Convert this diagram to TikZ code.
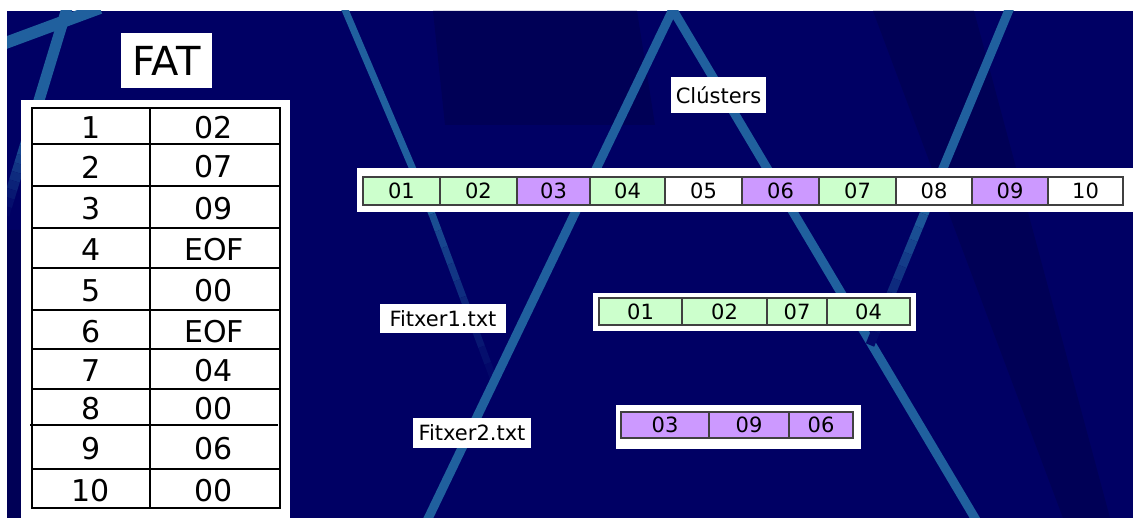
\documentclass[tikz,border=0pt]{standalone}
\usepackage{fontspec}
\setmainfont{DejaVu Sans}
\usetikzlibrary{calc}
\definecolor{bgnavy}{RGB}{0,0,100}
\definecolor{darknavy}{RGB}{0,0,86}
\definecolor{streak}{RGB}{32,96,158}
\definecolor{cellgreen}{RGB}{204,255,204}
\definecolor{cellpurple}{RGB}{204,153,255}
\begin{document}
\begin{tikzpicture}[x=1pt,y=-1pt,
  streakline/.style={draw=streak, line width=9pt},
  panel/.style={fill=white, draw=none, inner sep=0pt},
  cellbox/.style={draw=black!75, line width=1.1pt, inner sep=0pt, minimum height=28pt, font=\fontsize{21}{21}\selectfont},
  tag/.style={fill=white, draw=none, inner sep=0pt, font=\fontsize{21}{21}\selectfont},
  gridline/.style={draw=black, line width=1.8pt},
  tabtext/.style={font=\fontsize{30}{30}\selectfont, inner sep=0pt}]
\useasboundingbox (0,0) rectangle (1133,518);
\fill[white] (0,0) rectangle (1133,518);
% background
\begin{scope}
  \clip (7,11) rectangle (1133,518);
  \fill[bgnavy] (7,11) rectangle (1133,518);
  \fill[darknavy] (433,11) -- (637,11) -- (655,125) -- (445,125) -- cycle;
  \fill[darknavy] (873,11) -- (974,11) -- (1110,518) -- (1063,518) -- cycle;
  \fill[darknavy] (7,230) -- (60,230) -- (120,518) -- (7,518) -- cycle;
  % light streaks
  \draw[streakline, line width=12pt] (0,45) -- (100,8);
  \draw[streakline, line width=11pt] (68,5) -- (30,130);
  \coordinate (ua) at (30,130);
  \coordinate (ub) at (4,215);
  \foreach \k [evaluate=\k as \p using {int(95-10*\k)}] in {0,...,9}
    \draw[streakline, line width=11pt, draw=streak!\p!bgnavy] ($(ua)!\k/10!(ub)$) -- ($(ua)!\k/10+0.1!(ub)$);
  \draw[streakline, line width=7pt] (343,5) -- (432,214);
  \coordinate (aa) at (432,214);
  \coordinate (ab) at (494,380);
  \foreach \k [evaluate=\k as \p using {int(80-8*\k)}] in {0,...,9}
    \draw[streakline, line width=7pt, draw=streak!\p!bgnavy] ($(aa)!\k/10!(ab)$) -- ($(aa)!\k/10+0.1!(ab)$);
  \draw[streakline] (675,5) -- (425,525);
  \draw[streakline] (670,5) -- (979,525);
  \draw[streakline] (1011,5) -- (924,214);
  \coordinate (da) at (924,214);
  \coordinate (db) at (870,345);
  \foreach \k [evaluate=\k as \p using {int(90-9*\k)}] in {0,...,9}
    \draw[streakline, draw=streak!\p!bgnavy] ($(da)!\k/10!(db)$) -- ($(da)!\k/10+0.1!(db)$);
\end{scope}
% FAT title and table
\node[tag, minimum width=91pt, minimum height=55pt, font=\fontsize{40}{40}\selectfont] (fat) at (166.5,60.5) {FAT};
\node[panel, minimum width=269pt, minimum height=418pt] (fatpanel) at (155.5,309) {};
\draw[gridline] (32,108) rectangle (280,508);
\draw[gridline] (150,108) -- (150,508);
\foreach \yy in {144,186,228,268,310,349,389,469} \draw[gridline] (32,\yy) -- (280,\yy);
\draw[gridline] (30,425) -- (278,425);
\foreach \i/\v/\yc in {1/02/128, 2/07/167, 3/09/209, 4/EOF/250, 5/00/291, 6/EOF/331.5, 7/04/371, 8/00/409, 9/06/449, 10/00/490.5} {
  \node[tabtext] (k\i) at (91,\yc) {\i};
  \node[tabtext] (v\i) at (214,\yc) {\v};
}
% Clusters
\node[tag, minimum width=95pt, minimum height=36pt] (clusterslabel) at (718.5,95) {Clústers};
\node[panel, minimum width=776pt, minimum height=44pt] (clpanel) at (745,190) {};
\foreach \n/\t/\xc/\w/\col in {1/01/401.5/77/cellgreen, 2/02/478.5/77/cellgreen, 3/03/553.5/73/cellpurple, 4/04/627.5/75/cellgreen, 5/05/703.5/77/white, 6/06/780.5/77/cellpurple, 7/07/857.5/77/cellgreen, 8/08/934/76/white, 9/09/1010/76/cellpurple, 10/10/1085.5/75/white} {
  \node[cellbox, fill=\col, minimum width=\w pt] (cl\n) at (\xc,191) {\t};
}
% Fitxer1
\node[tag, minimum width=126pt, minimum height=29pt] (f1label) at (443,318.5) {Fitxer1.txt};
\node[panel, minimum width=323pt, minimum height=38pt] (f1panel) at (754.5,312) {};
\foreach \n/\t/\xc/\w in {1/01/640.5/83, 2/02/724.5/85, 3/07/797/60, 4/04/868.5/83} {
  \node[cellbox, fill=cellgreen, minimum width=\w pt, minimum height=27pt] (fa\n) at (\xc,311.5) {\t};
}
% Fitxer2
\node[tag, minimum width=118pt, minimum height=30pt] (f2label) at (472,433) {Fitxer2.txt};
\node[panel, minimum width=245pt, minimum height=44pt] (f2panel) at (738.5,427) {};
\foreach \n/\t/\xc/\w in {1/03/665/88, 2/09/749/80, 3/06/821/64} {
  \node[cellbox, fill=cellpurple, minimum width=\w pt, minimum height=26pt] (fb\n) at (\xc,425) {\t};
}
\end{tikzpicture}
\end{document}
